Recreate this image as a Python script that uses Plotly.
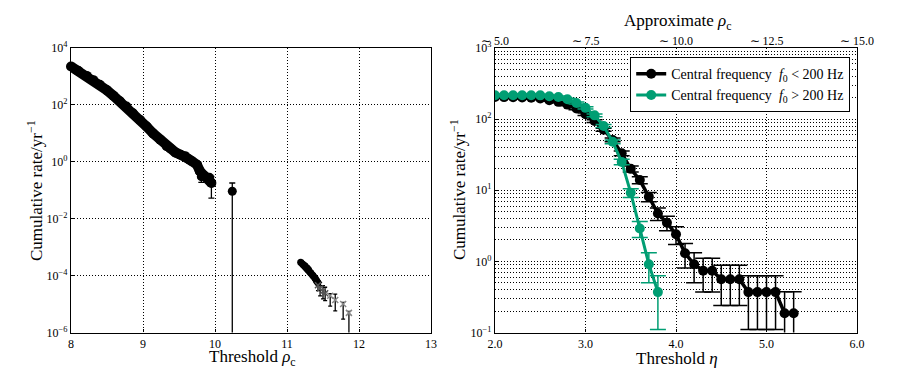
import plotly.graph_objects as go

# ---------------- Left panel data ----------------
band_x = [8.00, 8.10, 8.22, 8.31, 8.40, 8.50, 8.59, 8.68, 8.77, 8.86, 8.96, 9.05, 9.14,
          9.24, 9.33, 9.38, 9.45, 9.52, 9.585, 9.63, 9.68, 9.75, 9.79, 9.86, 9.92, 9.95]
band_y = [2239, 1585, 1047, 741, 513, 324, 209, 135, 87, 51, 29.5, 17.4, 10.0,
          6.0, 3.55, 2.95, 2.14, 1.78, 1.58, 1.26, 1.05, 0.79, 0.47, 0.31, 0.275, 0.18]

errpt_x = [9.81, 9.95, 10.24]
errpt_y = [0.30, 0.18, 0.092]
errpt_hi = [0.41, 0.307, 0.18]
errpt_lo = [0.19, 0.053, 1e-9]

band2_x = [11.19, 11.22, 11.25, 11.28, 11.30, 11.33, 11.36, 11.39, 11.41, 11.43]
band2_y = [2.95e-4, 2.5e-4, 2.2e-4, 1.85e-4, 1.6e-4, 1.25e-4, 1.0e-4, 8.0e-5, 6.6e-5, 5.6e-5]

err2_x = [11.43, 11.46, 11.50, 11.53]
err2_y = [4.6e-5, 3.5e-5, 2.8e-5, 2.4e-5]
err2_hi = [6.6e-5, 5.75e-5, 4.47e-5, 3.9e-5]
err2_lo = [2.95e-5, 1.95e-5, 1.51e-5, 1.32e-5]

grey_x = [11.60, 11.67, 11.78, 11.86]
grey_y = [1.95e-5, 1.38e-5, 1.0e-5, 4.9e-6]
grey_hi = [2.34e-5, 2.24e-5, 1.15e-5, 5.5e-6]
grey_lo = [8.5e-6, 5.75e-6, 2.95e-6, 1e-9]

left_xticks = [8, 9, 10, 11, 12, 13]
left_yticks = [1e-6, 1e-4, 1e-2, 1, 1e2, 1e4]
left_yticktext = ["10<sup>−6</sup>", "10<sup>−4</sup>", "10<sup>−2</sup>", "10<sup>0</sup>",
                  "10<sup>2</sup>", "10<sup>4</sup>"]

# ---------------- Right panel data ----------------
eta_low = [2.0, 2.1, 2.2, 2.3, 2.4, 2.5, 2.6, 2.7, 2.8, 2.9, 3.0, 3.1, 3.2, 3.3, 3.4, 3.5,
           3.6, 3.7, 3.8, 3.9, 4.0, 4.1, 4.2, 4.3, 4.4, 4.5, 4.6, 4.7, 4.8, 4.9, 5.0, 5.1,
           5.2, 5.3]
rate_low = [205, 204, 203, 201, 200, 195, 184, 175, 160, 141, 117, 94, 71, 51, 33, 20,
            13.9, 8.1, 4.7, 3.5, 2.4, 1.3, 0.91, 0.74, 0.74, 0.56, 0.56, 0.56, 0.37, 0.37,
            0.37, 0.37, 0.187, 0.187]
err_low = [6.2, 6.2, 6.2, 6.1, 6.1, 6.0, 5.9, 5.7, 5.5, 5.1, 4.7, 4.2, 3.6, 3.1, 2.5, 1.9,
           1.6, 1.23, 0.94, 0.81, 0.67, 0.49, 0.41, 0.37, 0.37, 0.32, 0.32, 0.32, 0.26, 0.26,
           0.26, 0.26, 0.187, 0.187]
err_low_minus = [6.2, 6.2, 6.2, 6.1, 6.1, 6.0, 5.9, 5.7, 5.5, 5.1, 4.7, 4.2, 3.6, 3.1, 2.5, 1.9,
                 1.6, 1.23, 0.94, 0.81, 0.67, 0.49, 0.41, 0.37, 0.37, 0.32, 0.32, 0.32, 0.26,
                 0.26, 0.26, 0.26, 0.1869, 0.1869]

eta_high = [2.0, 2.1, 2.2, 2.3, 2.4, 2.5, 2.6, 2.7, 2.8, 2.9, 3.0, 3.1, 3.2, 3.3, 3.4, 3.5,
            3.6, 3.7, 3.8]
rate_high = [217, 217, 217, 217, 217, 216, 210, 205, 190, 169, 144, 113, 80, 48, 25, 9.2,
             2.9, 0.91, 0.37]
err_high = [6.4, 6.4, 6.4, 6.4, 6.4, 6.4, 6.3, 6.2, 6.0, 5.6, 5.2, 4.6, 3.9, 3.0, 2.2, 1.3,
            0.74, 0.41, 0.26]

right_xticks = [2.0, 3.0, 4.0, 5.0, 6.0]
right_xticktext = ["2.0", "3.0", "4.0", "5.0", "6.0"]
top_ticktext = ["∼ 5.0", "∼ 7.5", "∼ 10.0", "∼ 12.5", "∼ 15.0"]
right_yticks = [0.1, 1, 10, 100, 1000]
right_yticktext = ["10<sup>−1</sup>", "10<sup>0</sup>", "10<sup>1</sup>", "10<sup>2</sup>",
                   "10<sup>3</sup>"]

label_low = "Central frequency  <i>f</i><sub>0</sub> &lt; 200 Hz"
label_high = "Central frequency  <i>f</i><sub>0</sub> &gt; 200 Hz"

GREEN = "#009E73"
FONT = "Liberation Serif"

fig = go.Figure()

# Left panel
fig.add_trace(go.Scatter(x=band_x, y=band_y, mode="lines+markers", xaxis="x", yaxis="y",
                         line=dict(color="black", width=10),
                         marker=dict(color="black", size=10), cliponaxis=False,
                         showlegend=False))
fig.add_trace(go.Scatter(x=errpt_x, y=errpt_y, mode="markers", xaxis="x", yaxis="y",
                         marker=dict(color="black", size=9),
                         error_y=dict(type="data", symmetric=False,
                                      array=[h - v for h, v in zip(errpt_hi, errpt_y)],
                                      arrayminus=[v - l for v, l in zip(errpt_y, errpt_lo)],
                                      color="black", thickness=1.3, width=3),
                         showlegend=False))
fig.add_trace(go.Scatter(x=band2_x, y=band2_y, mode="lines+markers", xaxis="x", yaxis="y",
                         line=dict(color="black", width=7),
                         marker=dict(color="black", size=7), showlegend=False))
fig.add_trace(go.Scatter(x=err2_x, y=err2_y, mode="markers", xaxis="x", yaxis="y",
                         marker=dict(color="#333333", size=6, symbol="x-thin",
                                     line=dict(color="#555555", width=1.5)),
                         error_y=dict(type="data", symmetric=False,
                                      array=[h - v for h, v in zip(err2_hi, err2_y)],
                                      arrayminus=[v - l for v, l in zip(err2_y, err2_lo)],
                                      color="black", thickness=1.3, width=2),
                         showlegend=False))
fig.add_trace(go.Scatter(x=grey_x, y=grey_y, mode="markers", xaxis="x", yaxis="y",
                         marker=dict(color="#888888", size=6, symbol="x-thin",
                                     line=dict(color="#888888", width=1.5)),
                         error_y=dict(type="data", symmetric=False,
                                      array=[h - v for h, v in zip(grey_hi, grey_y)],
                                      arrayminus=[v - l for v, l in zip(grey_y, grey_lo)],
                                      color="black", thickness=1.3, width=2),
                         showlegend=False))

# Right panel
fig.add_trace(go.Scatter(x=eta_low, y=rate_low, mode="lines+markers", xaxis="x2", yaxis="y2",
                         name=label_low, line=dict(color="black", width=3.5),
                         marker=dict(color="black", size=10),
                         error_y=dict(type="data", symmetric=False, array=err_low,
                                      arrayminus=err_low_minus, color="black",
                                      thickness=1.5, width=8)))
fig.add_trace(go.Scatter(x=eta_high, y=rate_high, mode="lines+markers", xaxis="x2", yaxis="y2",
                         name=label_high, line=dict(color=GREEN, width=3),
                         marker=dict(color=GREEN, size=10),
                         error_y=dict(type="data", array=err_high, color=GREEN,
                                      thickness=1.5, width=8)))
# invisible carrier trace so the top (approximate rho_c) axis is drawn
fig.add_trace(go.Scatter(x=right_xticks, y=right_yticks, mode="markers", xaxis="x3",
                         yaxis="y2", marker=dict(opacity=0), showlegend=False,
                         hoverinfo="skip"))

# page body has an 8px margin: place everything in window pixels
OFF = 8
W, H = 900 - OFF, 380 - OFF


def px(x):
    return (x - OFF) / W


def py(y):
    return 1 - (y - OFF) / H


L1, R1 = px(71), px(431)
L2, R2 = px(495), px(857)
TOP, BOT = py(48), py(332.5)

DOT = "1px,2px"
grid = dict(showgrid=True, gridcolor="black", griddash=DOT, gridwidth=1)
axline = dict(showline=True, linecolor="black", linewidth=1.2, mirror=True, zeroline=False,
              ticks="inside", ticklen=3, tickcolor="black", automargin=False,
              tickfont=dict(family=FONT, size=12, color="black"))

minor_vals = [d * k for d in [0.1, 1, 10, 100] for k in range(2, 10)]

fig.update_layout(
    width=W, height=H, margin=dict(l=0, r=0, t=0, b=0, autoexpand=False),
    paper_bgcolor="white", plot_bgcolor="white",
    font=dict(family=FONT, color="black"),
    xaxis=dict(domain=[L1, R1], anchor="y", range=[8, 13], tickvals=left_xticks,
               **grid, **axline),
    yaxis=dict(domain=[BOT, TOP], anchor="x", type="log", range=[-6, 4],
               tickvals=left_yticks, ticktext=left_yticktext, **grid, **axline),
    xaxis2=dict(domain=[L2, R2], anchor="y2", range=[2, 6], tickvals=right_xticks,
                ticktext=right_xticktext, **grid, **axline),
    yaxis2=dict(domain=[BOT, TOP], anchor="x2", type="log", range=[-1, 3],
                tickvals=right_yticks, ticktext=right_yticktext, **grid, **axline,
                minor=dict(tickvals=minor_vals, showgrid=True, gridcolor="black",
                           griddash=DOT, gridwidth=1, ticks="")),
    xaxis3=dict(anchor="y2", overlaying="x2", side="top", range=[2, 6],
                tickvals=right_xticks, ticktext=top_ticktext, showgrid=False,
                showline=False, ticks="", zeroline=False, automargin=False,
                tickfont=dict(family=FONT, size=12, color="black")),
    legend=dict(x=px(850), xanchor="right", y=py(57), yanchor="top",
                bgcolor="white", bordercolor="black", borderwidth=1.2,
                font=dict(family=FONT, size=14, color="black"), tracegroupgap=4),
    showlegend=True,
)

annos = [
    dict(text="Threshold <i>ρ</i><sub>c</sub>", x=px(252), y=py(358)),
    dict(text="Threshold <i>η</i>", x=px(677), y=py(358)),
    dict(text="Approximate <i>ρ</i><sub>c</sub>", x=px(677), y=py(22)),
    dict(text="Cumulative rate/yr<sup>−1</sup>", x=px(35), y=py(191), textangle=-90),
    dict(text="Cumulative rate/yr<sup>−1</sup>", x=px(458), y=py(190), textangle=-90),
]
for a in annos:
    fig.add_annotation(xref="paper", yref="paper", showarrow=False, xanchor="center",
                       yanchor="middle", font=dict(family=FONT, size=17, color="black"), **a)

fig.write_html("out.html")
